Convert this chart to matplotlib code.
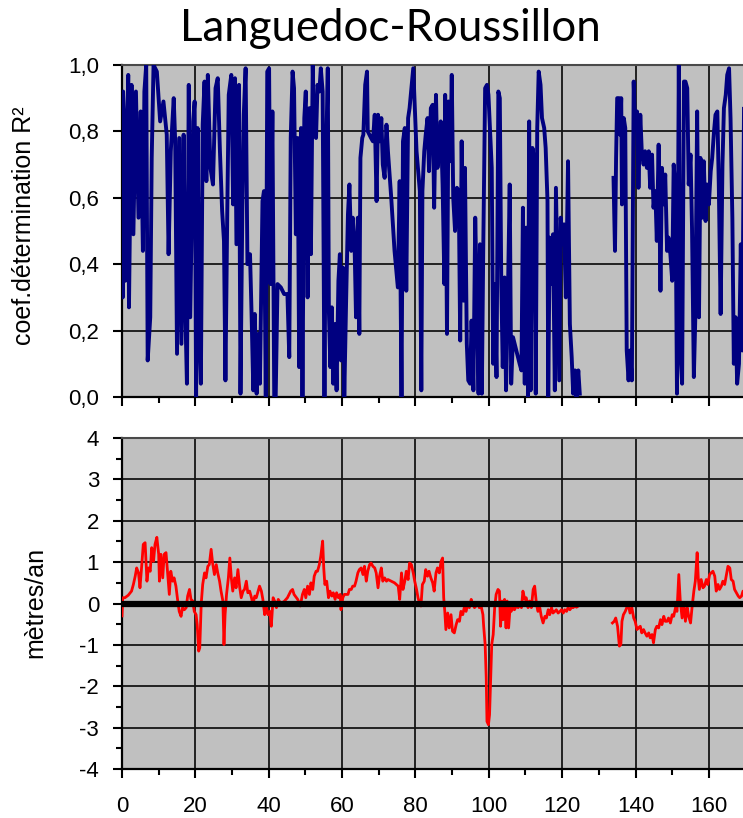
import numpy as np
import matplotlib
matplotlib.use("Agg")
import matplotlib.pyplot as plt
from matplotlib.ticker import MultipleLocator, FuncFormatter

# Position le long du littoral (km) et coefficient R² (panneau du haut)
pos_r2 = [
    0.0, 0.2, 0.3, 0.6, 0.9, 1.7, 1.9, 2.6, 3.1, 3.8, 4.5, 5.1, 5.7, 6.1, 6.6, 7.0,
    7.7, 8.1, 8.6, 9.5, 10.4, 11.3, 12.2, 12.7, 13.3, 14.1, 14.5, 15.0, 15.6, 16.2,
    16.8, 17.3, 17.7, 18.2, 18.6, 19.4, 19.8, 20.2, 20.6, 21.1, 21.5, 22.0, 22.5,
    23.0, 23.4, 24.1, 24.8, 25.5, 26.1, 26.7, 27.3, 27.8, 28.2, 28.7, 29.1, 29.8,
    30.3, 30.8, 31.2, 31.9, 32.3, 32.8, 33.2, 33.7, 34.2, 34.9, 35.3, 35.8, 36.2,
    36.7, 37.2, 37.6, 38.3, 38.7, 39.2, 39.6, 40.1, 40.5, 41.0, 41.5, 41.9, 42.4,
    43.3, 44.2, 45.1, 45.6, 46.0, 46.5, 46.9, 47.4, 47.9, 48.3, 48.8, 49.2, 49.7,
    50.1, 50.6, 51.1, 51.5, 52.0, 52.4, 52.9, 53.3, 53.8, 54.2, 54.7, 55.2, 55.6,
    56.1, 56.4, 56.8, 57.2, 57.6, 58.1, 58.5, 59.0, 59.4, 59.7, 60.2, 60.6, 61.1,
    61.6, 62.0, 62.5, 62.9, 63.4, 63.8, 64.3, 64.7, 65.0, 65.5, 65.8, 66.3, 66.8,
    67.0, 67.9, 68.4, 68.9, 69.4, 69.8, 70.2, 70.7, 71.1, 71.6, 72.1, 72.5, 73.4,
    74.3, 75.2, 75.7, 76.2, 76.6, 77.1, 77.5, 78.0, 78.4, 78.9, 79.4, 80.3, 81.2,
    81.6, 81.9, 82.4, 82.8, 83.3, 83.7, 84.2, 84.7, 85.1, 85.6, 86.0, 86.5, 86.9,
    87.4, 87.9, 88.1, 88.6, 89.0, 89.5, 89.9, 90.3, 90.8, 91.3, 91.8, 92.2, 92.6,
    93.1, 93.5, 94.0, 94.4, 94.9, 95.3, 95.8, 96.3, 96.7, 97.2, 97.6, 98.1, 98.5,
    99.0, 99.5, 99.9, 100.4, 100.8, 101.2, 101.6, 102.1, 102.6, 103.0, 103.4, 103.8,
    104.3, 104.7, 105.2, 105.7, 106.1, 106.6, 107.5, 108.4, 108.9, 109.3, 109.8,
    110.2, 110.7, 111.0, 111.4, 111.9, 112.3, 112.8, 113.2, 113.6, 114.1, 114.5,
    115.1, 115.5, 116.0, 116.2, 116.6, 117.1, 117.5, 118.0, 118.3, 118.7, 119.2,
    119.6, 120.1, 120.5, 121.0, 121.4, 121.6, 122.1, 122.6, 123.0, 123.5, 123.9,
    124.4, 124.8, 129.0,
    134.0, 134.2, 134.4, 134.7, 135.0, 135.5, 135.8, 136.1, 136.3, 136.8, 137.2,
    137.6, 138.1, 138.5, 139.0, 139.3, 139.5, 139.9, 140.4, 140.8, 141.3, 141.7,
    142.2, 142.6, 143.1, 143.6, 144.0, 144.5, 144.9, 145.4, 145.8, 146.3, 146.8,
    147.2, 147.7, 148.1, 148.6, 149.0, 149.5, 150.0, 150.4, 150.9, 151.3, 151.8,
    152.2, 152.7, 153.2, 153.6, 154.1, 154.5, 155.0, 155.4, 155.9, 156.3, 156.8,
    157.3, 157.7, 158.2, 158.6, 159.1, 159.5, 160.0, 160.5, 160.9, 161.4, 161.8,
    162.3, 162.7, 163.2, 163.7, 164.1, 164.6, 165.0, 165.5, 165.9, 166.4, 166.8,
    167.3, 167.7, 168.2, 168.7, 169.1, 169.6, 170.0,
]
r2 = [
    0.75, 0.30, 0.92, 0.84, 0.35, 0.97, 0.27, 0.94, 0.49, 0.92, 0.54, 0.86, 0.44, 0.92, 1.00, 0.11,
    0.24, 0.72, 1.00, 0.98, 0.83, 0.89, 0.79, 0.43, 0.74, 0.90, 0.77, 0.13, 0.78, 0.16,
    0.79, 0.24, 0.04, 0.94, 0.24, 0.83, 0.89, 0.00, 0.81, 0.18, 0.04, 0.82, 0.95,
    0.65, 0.97, 0.69, 0.64, 0.93, 0.96, 0.74, 0.56, 0.47, 0.05, 0.56, 0.91, 0.97,
    0.58, 0.96, 0.46, 0.94, 0.01, 0.56, 0.85, 0.99, 0.40, 0.43, 0.26, 0.02, 0.25,
    0.01, 0.19, 0.04, 0.59, 0.62, 0.00, 0.98, 0.99, 0.34, 0.86, 0.00, 0.00, 0.34,
    0.33, 0.31, 0.31, 0.12, 0.78, 0.98, 0.93, 0.49, 0.78, 0.09, 0.81, 0.00, 0.84,
    0.92, 0.30, 0.87, 0.43, 1.00, 0.79, 0.78, 0.94, 0.92, 0.99, 0.92, 0.00, 0.69,
    0.99, 0.26, 0.09, 0.27, 0.04, 0.22, 0.02, 0.35, 0.43, 0.11, 0.39, 0.00, 0.29,
    0.55, 0.64, 0.44, 0.54, 0.46, 0.24, 0.54, 0.19, 0.72, 0.78, 0.79, 0.94, 0.98,
    0.80, 0.78, 0.77, 0.85, 0.59, 0.85, 0.77, 0.84, 0.70, 0.66, 0.82, 0.74, 0.60,
    0.44, 0.33, 0.65, 0.00, 0.77, 0.81, 0.32, 0.84, 0.87, 0.93, 0.99, 0.74, 0.62,
    0.02, 0.62, 0.74, 0.79, 0.84, 0.68, 0.87, 0.88, 0.57, 0.91, 0.69, 0.74, 0.83,
    0.64, 0.34, 0.91, 0.19, 0.89, 0.71, 0.97, 0.60, 0.50, 0.63, 0.62, 0.17, 0.77,
    0.29, 0.69, 0.16, 0.05, 0.04, 0.23, 0.02, 0.54, 0.33, 0.01, 0.46, 0.01, 0.46,
    0.93, 0.94, 0.91, 0.79, 0.69, 0.10, 0.34, 0.06, 0.92, 0.90, 0.34, 0.09,
    0.36, 0.02, 0.30, 0.64, 0.04, 0.18, 0.14, 0.10, 0.08, 0.57, 0.04,
    0.51, 0.00, 0.83, 0.02, 0.75, 0.72, 0.01, 0.81, 0.98, 0.94, 0.84,
    0.81, 0.75, 0.59, 0.00, 0.48, 0.34, 0.49, 0.02, 0.63, 0.37, 0.05,
    0.54, 0.46, 0.52, 0.30, 0.56, 0.71, 0.22, 0.12, 0.01, 0.08, 0.00,
    0.08, 0.01, np.nan,
    0.66, 0.55, 0.44, 0.72, 0.90, 0.90, 0.79, 0.90, 0.58, 0.84, 0.81,
    0.14, 0.05, 0.14, 0.05, 0.60, 0.95, 0.81, 0.86, 0.63, 0.85, 0.74,
    0.70, 0.74, 0.69, 0.74, 0.63, 0.73, 0.57, 0.62, 0.47, 0.76, 0.32,
    0.69, 0.58, 0.67, 0.44, 0.48, 0.43, 0.35, 0.70, 0.62, 0.01, 1.00,
    0.14, 0.04, 0.95, 0.95, 0.93, 0.64, 0.73, 0.51, 0.06, 0.24, 0.86,
    0.24, 0.72, 0.54, 0.71, 0.53, 0.64, 0.58, 0.68, 0.72, 0.80, 0.85,
    0.86, 0.64, 0.25, 0.70, 0.87, 0.91, 0.97, 0.99, 0.84, 0.54, 0.10,
    0.24, 0.04, 0.10, 0.46, 0.14, 0.91, 0.46,
]

# Vitesse d'évolution du trait de côte (m/an) (panneau du bas)
pos_v = [
    0.0, 0.2, 0.8, 1.7, 2.6, 3.1, 3.6, 4.0, 4.5, 4.9, 5.4, 5.8, 6.3, 6.8, 7.2, 7.7,
    8.1, 8.6, 9.0, 9.5, 10.0, 10.2, 10.6, 11.1, 11.5, 12.0, 12.4, 12.9, 13.3, 13.8,
    14.2, 14.7, 15.2, 15.6, 16.1, 16.5, 17.0, 17.5, 17.9, 18.4, 18.8, 19.3, 19.7,
    20.2, 20.5, 20.9, 21.2, 21.6, 22.0, 22.5, 22.9, 23.4, 23.8, 24.3, 24.7, 25.2,
    25.7, 26.1, 26.6, 27.0, 27.5, 27.8, 28.1, 28.5, 29.0, 29.4, 29.8, 30.2, 30.7,
    31.1, 31.6, 32.1, 32.5, 33.0, 33.4, 33.9, 34.3, 34.8, 35.3, 35.7, 36.2, 36.6,
    37.1, 37.5, 38.0, 38.4, 38.9, 39.4, 39.8, 40.3, 40.7, 41.2, 41.6, 42.1, 42.6,
    43.3, 44.2, 45.1, 46.0, 46.5, 46.9, 47.9, 48.6, 49.2, 49.7, 50.1, 50.6, 51.1,
    51.5, 52.0, 52.4, 52.9, 53.3, 53.8, 54.2, 54.7, 55.0, 55.3, 55.8, 56.3, 56.7,
    57.2, 57.6, 58.1, 58.5, 59.0, 59.5, 59.7, 60.2, 60.6, 61.6, 62.0, 62.5, 62.9,
    63.4, 63.8, 64.3, 64.7, 65.2, 65.7, 66.1, 66.6, 67.0, 67.5, 67.9, 68.4, 68.9,
    69.3, 69.8, 70.2, 70.7, 71.1, 71.6, 72.1, 72.5, 73.4, 74.3, 75.3, 75.7, 76.2,
    76.6, 77.1, 77.5, 78.0, 78.4, 78.9, 79.4, 79.8, 80.3, 80.7, 81.2,
    81.5, 81.9, 82.4, 82.8, 83.3, 83.7, 84.2, 84.7, 85.1, 85.6, 86.0, 86.5, 87.0,
    87.4, 87.7, 88.0, 88.3, 88.8, 89.2, 89.7, 90.1, 90.6, 91.1, 91.5, 92.0, 92.4,
    92.9, 93.3, 93.8, 94.2, 94.7, 95.2, 95.6, 96.1, 96.5, 97.0, 97.4, 97.9, 98.4,
    98.6, 99.0, 99.3, 99.5, 99.9, 100.2, 100.5, 100.8, 101.2, 101.6, 102.0, 102.5,
    102.9, 103.2, 103.6, 103.9, 104.3, 104.7, 105.0, 105.4, 105.8, 106.1, 106.6,
    107.0, 107.5, 108.0, 108.4, 108.9, 109.3, 109.8, 110.2, 110.7, 111.1, 111.6,
    112.1, 112.5, 113.0, 113.4, 113.9, 114.3, 114.8, 115.3, 115.7, 116.2, 116.6,
    117.1, 117.5, 118.0, 118.4, 118.9, 119.4, 119.8, 120.3, 120.7, 121.2, 121.6,
    122.1, 122.6, 123.0, 123.5, 123.9, 124.4, 129.0,
    133.7, 134.2, 134.6, 135.1, 135.3, 135.6, 136.0, 136.3, 136.7, 137.2, 137.6,
    138.1, 138.5, 139.0, 139.5, 139.9, 140.4, 140.8, 141.3, 141.7, 142.2, 142.6,
    143.1, 143.6, 144.0, 144.5, 144.9, 145.4, 145.8, 146.3, 146.8, 147.2, 147.7,
    148.1, 148.6, 149.0, 149.5, 150.0, 150.4, 150.9, 151.3, 151.8, 152.2, 152.7,
    153.2, 153.6, 154.1, 154.5, 155.0, 155.4, 155.9, 156.3, 156.8, 157.1, 157.4,
    157.9, 158.4, 158.8, 159.3, 159.7, 160.2, 160.6, 161.1, 161.6, 162.0, 162.5,
    162.9, 163.4, 163.8, 164.3, 164.8, 165.2, 165.7, 166.1, 166.6, 167.0, 167.5,
    168.0, 168.4, 168.9, 169.3, 170.0,
]
vitesse = [
    -0.30, 0.14, 0.14, 0.20, 0.30, 0.46, 0.66, 0.86, 0.74, 0.38, 0.94, 1.43, 1.47, 0.54, 0.86, 0.78,
    1.35, 1.02, 1.43, 1.60, 1.19, 0.54, 1.19, 0.62, 1.19, 1.23, 0.78, 0.22, 0.78, 0.54,
    0.62, 0.42, 0.06, -0.19, -0.31, -0.10, -0.15, -0.10, 0.18, 0.34, 0.10, 0.06, -0.19,
    -0.27, -0.51, -1.15, -1.07, 0.00, 0.46, 0.74, 0.62, 0.90, 0.94, 1.31, 0.98, 0.70,
    0.94, 0.74, 0.54, 0.30, 0.06, -0.99, -0.27, 0.22, 0.62, 1.10, 0.62, 0.30, 0.62,
    0.38, 0.82, 0.38, 0.14, 0.30, 0.34, 0.54, 0.26, 0.30, 0.14, -0.02, 0.18, 0.14,
    0.30, 0.42, 0.30, 0.10, -0.27, -0.10, -0.27, -0.19, -0.55, 0.14, 0.06, -0.10, 0.10,
    0.00, 0.05, 0.14, 0.30, 0.34, 0.22, 0.10, -0.06, 0.22, 0.34, 0.14, 0.42, 0.22,
    0.50, 0.34, 0.66, 0.78, 0.78, 0.94, 1.15, 1.51, 0.86, 0.46, 0.54, 0.14, 0.30,
    0.18, 0.26, 0.10, 0.26, 0.14, 0.22, -0.15, 0.14, 0.22, 0.22, 0.34, 0.34, 0.42,
    0.42, 0.54, 0.74, 0.82, 0.86, 0.70, 0.90, 0.54, 0.78, 0.94, 0.98, 0.90, 0.86,
    0.74, 0.38, 0.66, 0.86, 0.54, 0.62, 0.54, 0.58, 0.54, 0.50, 0.42, 0.10, 0.74,
    0.34, 0.54, 0.78, 0.58, 0.98, 0.94, 0.74, 0.54, 0.34, 0.14, -0.02,
    -0.06, 0.46, 0.54, 0.82, 0.66, 0.78, 0.62, 0.50, 0.30, 0.74, 0.86, 0.74, 1.02,
    1.10, 0.14, -0.19, -0.63, -0.23, -0.59, -0.27, -0.67, -0.71, -0.51, -0.39, -0.43, -0.19,
    -0.27, -0.10, -0.19, -0.02, -0.10, 0.10, -0.02, -0.10, -0.06, 0.02, -0.10, -0.06, -0.27,
    -0.55, -0.99, -1.80, -2.85, -2.93, -2.69, -1.88, -0.99, -0.75, -0.10, 0.22, 0.34,
    0.30, -0.55, 0.06, -0.39, 0.10, -0.59, 0.06, -0.59, -0.10, -0.19, -0.10,
    -0.15, -0.06, -0.10, -0.02, -0.10, 0.30, 0.10, 0.14, -0.10, 0.06, -0.10,
    0.34, 0.42, -0.02, -0.19, -0.10, -0.31, -0.47, -0.31, -0.35, -0.15, -0.27,
    -0.10, -0.23, -0.19, -0.15, -0.23, -0.19, -0.15, -0.23, -0.15, -0.19, -0.10,
    -0.15, -0.09, -0.10, -0.06, -0.09, -0.06, np.nan,
    -0.47, -0.43, -0.35, -0.55, -0.75, -1.03, -0.99, -0.43, -0.27, -0.19, -0.10,
    -0.06, -0.23, -0.10, -0.35, -0.43, -0.63, -0.59, -0.55, -0.71, -0.63, -0.71,
    -0.79, -0.71, -0.83, -0.75, -0.95, -0.63, -0.55, -0.59, -0.39, -0.51, -0.31,
    -0.43, -0.43, -0.35, -0.47, -0.27, -0.31, -0.10, -0.19, 0.70, 0.06, -0.35,
    -0.02, -0.43, -0.10, -0.31, -0.47, -0.10, 0.30, 0.54, 1.23, 0.62, 0.34,
    0.58, 0.38, 0.42, 0.58, 0.46, 0.70, 0.74, 0.78, 0.66, 0.30, 0.46,
    0.34, 0.42, 0.54, 0.46, 0.70, 0.90, 0.86, 0.58, 0.54, 0.34, 0.26,
    0.18, 0.14, 0.18, 0.30, 0.22,
]

plt.rcParams["font.family"] = ["Liberation Sans", "DejaVu Sans"]
plt.rcParams["axes.unicode_minus"] = False

fig = plt.figure(figsize=(7.43, 8.18), dpi=100)
ax1 = fig.add_axes([0.1642, 0.5147, 0.8358, 0.4059])
ax2 = fig.add_axes([0.1642, 0.0599, 0.8358, 0.4046])

fond = "#c0c0c0"
for ax in (ax1, ax2):
    ax.set_facecolor(fond)
    ax.set_xlim(0, 169.3)
    ax.xaxis.set_major_locator(MultipleLocator(20))
    ax.xaxis.set_minor_locator(MultipleLocator(10))
    ax.grid(True, which="major", color="#151515", linewidth=1.3, zorder=1)
    ax.set_axisbelow(True)
    ax.spines["right"].set_visible(False)
    ax.spines["top"].set_color("#4a4a4a")
    ax.spines["top"].set_linewidth(1.5)
    for s in ("left", "bottom"):
        ax.spines[s].set_linewidth(1.6)
        ax.spines[s].set_color("black")
    ax.tick_params(which="major", direction="out", length=6.5, width=1.5,
                   labelsize=16, color="black")
    ax.tick_params(which="minor", direction="out", length=4.5, width=1.5,
                   color="black")
    ax.tick_params(axis="y", pad=10)
    ax.tick_params(axis="x", pad=13)

# Panneau du haut : R²
ax1.plot(pos_r2, r2, color="#000080", linewidth=2.8, zorder=3)
ax1.set_ylim(0, 1.0)
ax1.yaxis.set_major_locator(MultipleLocator(0.2))
ax1.yaxis.set_major_formatter(FuncFormatter(lambda v, p: f"{v:.1f}".replace(".", ",")))
ax1.tick_params(axis="x", labelbottom=False)

# Panneau du bas : m/an
ax2.plot(pos_v, vitesse, color="#ff0000", linewidth=2.0, zorder=3)
ax2.axhline(0, color="black", linewidth=4.5, zorder=4)
ax2.set_ylim(-4, 4)
ax2.yaxis.set_major_locator(MultipleLocator(1))
ax2.yaxis.set_minor_locator(MultipleLocator(0.5))
ax2.yaxis.set_major_formatter(FuncFormatter(lambda v, p: f"{v:.0f}"))

fig.text(0.525, 0.950, "Languedoc-Roussillon", ha="center", va="baseline",
         fontsize=31.5, family=["Lato", "DejaVu Sans"])
fig.text(0.032, 0.724, "coef.détermination R²", rotation=90, ha="center",
         va="center", fontsize=18)
fig.text(0.048, 0.264, "mètres/an", rotation=90, ha="center", va="center",
         fontsize=18)

fig.savefig("out.png", dpi=100)
